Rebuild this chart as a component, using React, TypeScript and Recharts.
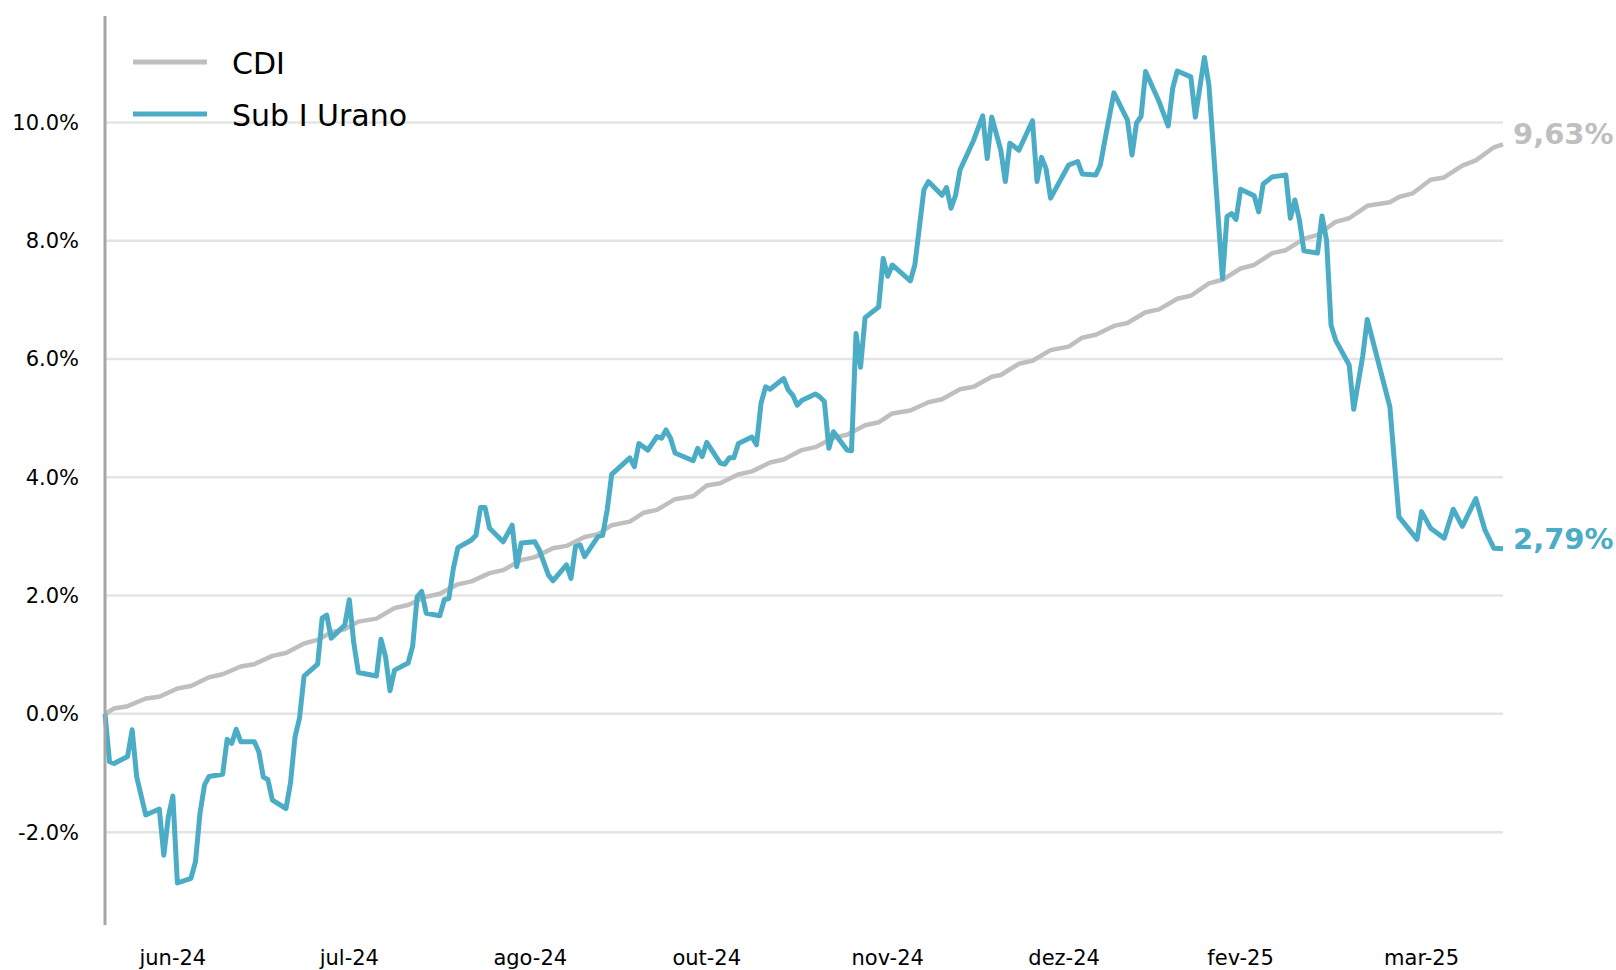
import { LineChart, Line, XAxis, YAxis, ReferenceLine } from "recharts";

// dias corridos desde o início da série
const cdiDias = [
  0, 2, 5, 9, 12, 16, 19, 23, 26, 30, 33, 37, 40, 44, 47, 50, 53, 56, 60, 64, 67, 71, 74, 78, 81, 85, 88,
  92, 95, 99, 102, 106, 109, 112, 116, 119, 122, 126, 130, 133, 136, 140, 143, 147, 150, 154, 157, 161,
  164, 168, 171, 174, 178, 182, 185, 189, 192, 196, 198, 202, 205, 209, 213, 216, 219, 223, 226, 230,
  233, 237, 240, 244, 247, 251, 254, 258, 261, 265, 268, 272, 275, 279, 284, 286, 289, 293, 296, 300,
  303, 307, 309,
];
const cdi = [
  0.0, 0.09, 0.13, 0.26, 0.29, 0.43, 0.47, 0.62, 0.67, 0.8, 0.84, 0.98, 1.03, 1.19, 1.25, 1.38, 1.43, 1.56,
  1.61, 1.79, 1.84, 1.98, 2.03, 2.19, 2.24, 2.38, 2.43, 2.6, 2.65, 2.8, 2.84, 2.99, 3.04, 3.19, 3.25, 3.4,
  3.45, 3.63, 3.68, 3.86, 3.9, 4.05, 4.1, 4.25, 4.3, 4.46, 4.51, 4.67, 4.72, 4.88, 4.93, 5.08, 5.13, 5.27,
  5.32, 5.49, 5.53, 5.7, 5.73, 5.92, 5.97, 6.15, 6.21, 6.36, 6.41, 6.56, 6.61, 6.79, 6.84, 7.02, 7.07, 7.28,
  7.34, 7.53, 7.59, 7.79, 7.84, 8.03, 8.1, 8.32, 8.38, 8.59, 8.65, 8.74, 8.8, 9.03, 9.07, 9.27, 9.36, 9.58,
  9.63,
];

const uranoDias = [
  0, 1, 2, 5, 6, 7, 9, 12, 13, 14, 15, 16, 19, 20, 21, 22, 23, 26, 27, 28, 29, 30, 33, 34, 35, 36, 37, 40,
  41, 42, 43, 44, 47, 48, 49, 50, 53, 54, 55, 56, 60, 61, 62, 63, 64, 67, 68, 69, 70, 71, 74, 75, 76, 77,
  78, 81, 82, 83, 84, 85, 88, 90, 91, 92, 95, 96, 98, 99, 102, 103, 104, 105, 106, 109, 110, 111, 112,
  116, 117, 118, 120, 122, 123, 124, 125, 126, 130, 131, 132, 133, 136, 137, 138, 139, 140, 143, 144,
  145, 146, 147, 150, 151, 152, 153, 154, 157, 158, 159, 160, 161, 164, 165, 166, 167, 168, 171, 172,
  173, 174, 178, 179, 181, 182, 185, 186, 187, 188, 189, 192, 194, 195, 196, 198, 199, 200, 202, 205,
  206, 207, 208, 209, 213, 215, 216, 219, 220, 221, 223, 226, 227, 228, 229, 230, 233, 235, 236, 237,
  240, 241, 243, 244, 247, 248, 249, 250, 251, 254, 255, 256, 258, 261, 262, 263, 264, 265, 268, 269,
  270, 271, 272, 275, 276, 278, 279, 284, 286, 290, 291, 293, 296, 298, 300, 303, 305, 307, 309,
];
const urano = [
  0.0, -0.81, -0.84, -0.72, -0.27, -1.06, -1.71, -1.61, -2.39, -1.74, -1.39, -2.86, -2.78, -2.5, -1.68,
  -1.2, -1.06, -1.02, -0.43, -0.5, -0.26, -0.47, -0.47, -0.64, -1.07, -1.11, -1.46, -1.6, -1.17, -0.39,
  -0.07, 0.64, 0.84, 1.62, 1.67, 1.28, 1.5, 1.93, 1.19, 0.7, 0.64, 1.26, 0.97, 0.39, 0.74, 0.86, 1.14,
  1.98, 2.07, 1.7, 1.66, 1.93, 1.95, 2.46, 2.81, 2.94, 3.02, 3.49, 3.49, 3.14, 2.91, 3.19, 2.49, 2.89,
  2.91, 2.77, 2.35, 2.25, 2.52, 2.29, 2.83, 2.86, 2.66, 3.0, 3.02, 3.45, 4.05, 4.33, 4.18, 4.57, 4.46,
  4.69, 4.66, 4.8, 4.66, 4.41, 4.28, 4.49, 4.35, 4.59, 4.24, 4.22, 4.33, 4.33, 4.57, 4.68, 4.55, 5.25,
  5.53, 5.49, 5.67, 5.48, 5.39, 5.22, 5.3, 5.41, 5.36, 5.28, 4.49, 4.77, 4.46, 4.45, 6.43, 5.86, 6.7,
  6.88, 7.7, 7.4, 7.59, 7.32, 7.59, 8.86, 9.0, 8.77, 8.9, 8.55, 8.77, 9.2, 9.7, 10.11, 9.39, 10.09, 9.53,
  9.0, 9.65, 9.53, 10.03, 9.0, 9.41, 9.22, 8.72, 9.28, 9.34, 9.13, 9.11, 9.28, 9.7, 10.5, 10.04, 9.45,
  9.99, 10.1, 10.86, 10.35, 9.94, 10.58, 10.87, 10.77, 10.09, 11.1, 10.63, 7.36, 8.41, 8.46, 8.36, 8.87,
  8.76, 8.49, 8.96, 9.08, 9.11, 8.38, 8.69, 8.35, 7.83, 7.79, 8.42, 8.01, 6.57, 6.32, 5.9, 5.15, 6.05,
  6.67, 5.19, 3.33, 2.95, 3.42, 3.14, 2.97, 3.46, 3.17, 3.64, 3.11, 2.8, 2.79,
];

const tickDias = [15, 54, 94, 133, 173, 212, 251, 291];
const tickLabels = ["jun-24", "jul-24", "ago-24", "out-24", "nov-24", "dez-24", "fev-25", "mar-25"];
const yTicks = [-2, 0, 2, 4, 6, 8, 10];
const nomes = ["CDI", "Sub I Urano"];

const CINZA = "#BFBFBF";
const AZUL = "#4BACC6";

const cdiData = cdiDias.map((d, i) => ({ d, v: cdi[i] }));
const uranoData = uranoDias.map((d, i) => ({ d, v: urano[i] }));

const pct = (v: number) => `${v.toFixed(2).replace(".", ",")}%`;

// só o último ponto recebe o rótulo com o valor final
const endDot = (color: string, last: number) => (props: any) => {
  const { cx, cy, index, payload } = props;
  if (index !== last) return <g key={`d${index}`} />;
  return (
    <text
      key={`d${index}`}
      x={cx + 10}
      y={cy}
      fill={color}
      fontSize={29}
      fontWeight="bold"
      fontFamily="DejaVu Sans"
    >
      {pct(payload.v)}
    </text>
  );
};

const cores = [CINZA, AZUL];

const Legenda = () => (
  <svg width={460} height={150} style={{ position: "absolute", left: 0, top: 0 }}>
    {nomes.map((n, i) => (
      <g key={n}>
        <line x1={133} x2={207} y1={62 + i * 52} y2={62 + i * 52} stroke={cores[i]} strokeWidth={5} />
        <text x={232} y={74 + i * 52} fontSize={30} fontFamily="DejaVu Sans" fill="#000">
          {n}
        </text>
      </g>
    ))}
  </svg>
);

const App = () => {
  return (
    <div style={{ position: "absolute", left: 0, top: 0, width: 1616, height: 970, background: "#fff" }}>
      <LineChart width={1616} height={970} margin={{ top: 16, right: 113, left: 0, bottom: 0 }}>
        <XAxis
          dataKey="d"
          type="number"
          domain={[0, 309]}
          ticks={tickDias}
          interval={0}
          tickFormatter={(v) => tickLabels[tickDias.indexOf(v)]}
          axisLine={false}
          tickLine={false}
          tickMargin={19}
          height={45}
          tick={{ fill: "#000", fontSize: 21, fontFamily: "DejaVu Sans" }}
        />
        <YAxis
          type="number"
          domain={[-3.57, 11.8]}
          ticks={yTicks}
          interval={0}
          width={105}
          tickFormatter={(v) => `${v.toFixed(1)}%`}
          axisLine={{ stroke: "#A6A6A6", strokeWidth: 3 }}
          tickLine={false}
          tickMargin={20}
          tick={{ fill: "#000", fontSize: 21, fontFamily: "DejaVu Sans" }}
        />
        {/* linhas de grade só nos ticks */}
        {yTicks.map((t) => (
          <ReferenceLine key={t} y={t} stroke="#E4E4E4" strokeWidth={2.5} />
        ))}
        <Line
          data={cdiData}
          dataKey="v"
          name={nomes[0]}
          type="linear"
          stroke={CINZA}
          strokeWidth={4.5}
          strokeLinejoin="round"
          dot={endDot(CINZA, cdiData.length - 1)}
          activeDot={false}
          isAnimationActive={false}
        />
        <Line
          data={uranoData}
          dataKey="v"
          name={nomes[1]}
          type="linear"
          stroke={AZUL}
          strokeWidth={5}
          strokeLinejoin="round"
          dot={endDot(AZUL, uranoData.length - 1)}
          activeDot={false}
          isAnimationActive={false}
        />
      </LineChart>
      <Legenda />
    </div>
  );
};

export default App;
